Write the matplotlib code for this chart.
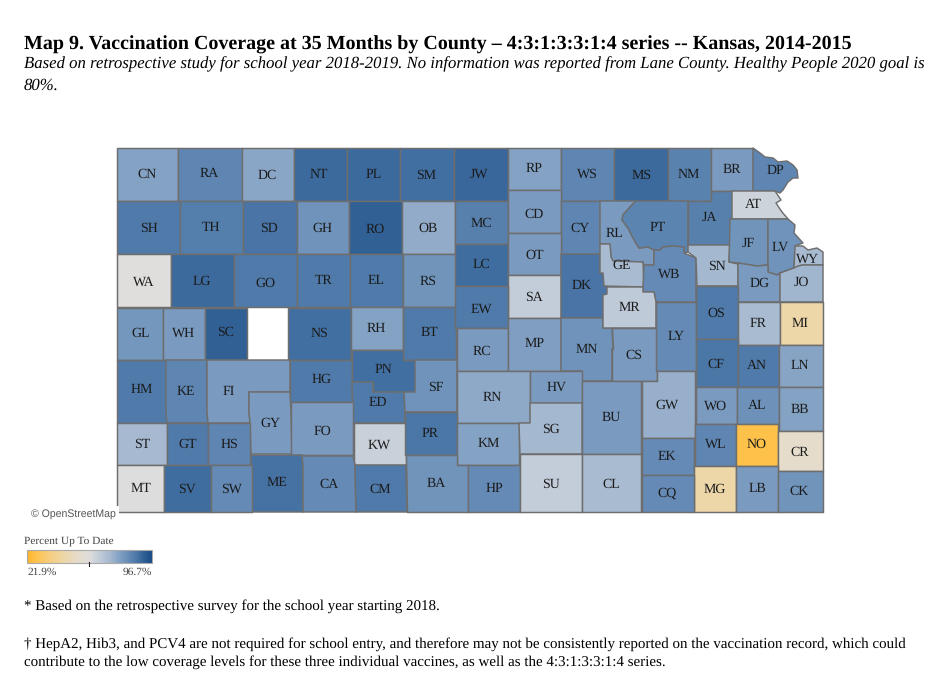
import matplotlib
matplotlib.use("Agg")
import matplotlib.pyplot as plt
from matplotlib.colors import LinearSegmentedColormap, Normalize
from matplotlib.patches import Polygon, Rectangle
import numpy as np

plt.rcParams['font.family'] = ['Liberation Serif', 'DejaVu Serif']
plt.rcParams['text.hinting'] = 'none'
plt.rcParams['text.hinting_factor'] = 8
plt.rcParams['text.kerning_factor'] = 0

# ---- data ----
counties = ["CN","RA","DC","NT","PL","SM","JW","RP","WS","MS","NM","BR","DP",
            "SH","TH","SD","GH","RO","OB","MC","CD","CY","RL","PT","JA","AT",
            "WA","LG","GO","TR","EL","RS","LC","OT","SA","DK","GE","WB","SN","JF","LV","WY","DG","JO",
            "GL","WH","SC","NS","RH","BT","EW","RC","MP","MN","MR","CS","LY","OS","FR","MI",
            "HM","KE","FI","HG","PN","ED","SF","RN","HV","BU","GW","CF","AN","LN",
            "GY","FO","ST","GT","HS","KW","PR","KM","SG","WO","AL","BB",
            "WL","NO","CR","EK","ME","CA","CM","BA","HP","SU","CL","MT","SV","SW","MG","LB","CK","CQ"]
coverage = [77,84,76,90,90,89,90.5,77,84,90,85,79,84,
            87,86,88,81,92,75,85.5,79,84,79,84.5,85.5,63,
            59,90,87,87,87,80.5,89.5,79,65,88,71,83,72,80.5,81,71,79,72.5,
            80,79,92,89,77,87,87,79,78,81,66,79,83,87,71,44,
            87,84,79,87,89,87,81,75.5,79,79,74,87.5,87,76.5,
            79,79,71.5,87,84,64,87.5,77,72,79,81.5,77,
            84,27,52,83,88.5,83,87,80.5,83,65,71,59.5,89.5,83,44,79,80.5,83]
vmin, vmax = 21.9, 96.7

def R(x0, y0, x1, y1):
    return [(x0,y0),(x1,y0),(x1,y1),(x0,y1)]

outlines = {
 "CN":R(117,148,178,201),"RA":R(178,148,242,201),"DC":R(242,148,294,201),"NT":R(294,148,347,201),
 "PL":R(347,148,400,201),"SM":R(400,148,454,201),"JW":R(454,148,508,201),"RP":R(508,148,561,190),
 "WS":R(561,148,614,201),"MS":R(614,148,668,201),"NM":R(668,148,711,201),"BR":R(711,148,753,191),
 "DP":[(753,148),(760,153),(765,157),(773,158),(778,162),(787,161),(793,165),(797,170),(798,178),(793,178),(788,182),(783,190),(780,193),(775,191),(753,191)],
 "SH":R(117,201,180,254),"TH":R(180,201,243,254),"SD":R(243,201,297,254),"GH":R(297,201,349,254),
 "RO":R(349,201,402,254),"OB":R(402,201,455,254),"MC":R(455,201,508,244),"CD":R(508,190,561,233),
 "CY":R(561,201,600,254),
 "RL":[(600,201),(636,201),(630,207),(623,215),(622,220),(628,228),(633,238),(639,248),(648,247),(654,250),(654,265),(644,265),(643,262),(613,261),(611,257),(610,244),(600,244)],
 "PT":[(636,201),(688,201),(688,252),(684,253),(684,247),(673,246),(663,247),(660,250),(654,250),(648,247),(639,248),(633,238),(628,228),(622,220),(623,215),(630,207)],
 "JA":[(688,201),(711,201),(711,191),(732,191),(732,219),(730,219),(730,245),(688,245)],
 "AT":[(732,191),(775,191),(781,200),(776,203),(782,212),(788,219),(732,219)],
 "WA":R(117,254,171,307),"LG":R(171,254,234,307),"GO":R(234,254,297,307),"TR":R(297,254,350,307),
 "EL":R(350,254,403,307),"RS":R(403,254,456,307),"LC":R(455,244,508,286),"OT":R(508,233,561,275),
 "SA":R(508,275,561,318),
 "DK":[(561,254),(600,254),(600,273),(603,273),(604,286),(607,286),(607,294),(603,295),(603,318),(561,318)],
 "GE":[(600,244),(610,244),(611,257),(613,261),(643,262),(644,287),(604,286),(603,273),(600,273)],
 "WB":[(654,250),(660,250),(663,247),(673,246),(684,247),(684,253),(696,258),(696,302),(656,302),(654,292),(643,292),(643,287),(644,265),(654,265)],
 "SN":[(688,245),(730,245),(729,262),(738,264),(738,286),(697,286),(696,258),(688,252)],
 "JF":[(730,219),(768,219),(768,265),(757,266),(738,263),(729,262)],
 "LV":[(768,219),(788,219),(795,225),(794,233),(803,243),(795,246),(794,268),(780,273),(777,275),(768,272)],
 "WY":[(795,246),(803,246),(808,250),(817,248),(823,252),(823,265),(803,265),(798,266),(794,271)],
 "DG":[(738,263),(757,266),(768,265),(768,272),(777,275),(780,273),(780,302),(738,302)],
 "JO":[(780,273),(794,268),(798,266),(803,265),(823,265),(823,302),(780,302)],
 "GL":R(117,308,163,360),"WH":R(163,308,205,360),"SC":R(205,308,247,360),"NS":R(288,308,351,360),
 "RH":R(351,307,403,350),"BT":R(403,307,456,360),"EW":R(455,286,508,328),"RC":R(457,328,508,371),
 "MP":R(508,318,561,371),
 "MN":[(561,318),(603,318),(603,328),(612,328),(613,349),(612,349),(612,381),(582,381),(582,371),(561,371)],
 "MR":[(607,287),(643,287),(643,292),(654,292),(656,302),(656,328),(603,328),(603,295),(607,294)],
 "CS":[(612,328),(657,328),(657,381),(612,381),(612,349),(613,349)],
 "LY":R(656,302,696,371),"OS":R(696,286,738,339),"FR":R(738,302,780,345),"MI":R(780,302,823,345),
 "HM":R(117,360,167,423),
 "KE":[(166,360),(207,360),(207,412),(208,423),(167,423),(166,412)],
 "FI":[(207,360),(290,360),(290,392),(249,392),(249,412),(250,423),(208,423),(207,412)],
 "HG":R(290,360,352,402),
 "PN":[(352,350),(403,350),(403,360),(415,360),(415,392),(373,392),(373,382),(352,382)],
 "ED":[(352,382),(373,382),(373,392),(404,392),(405,412),(405,423),(353,423)],
 "SF":[(415,360),(457,360),(457,412),(405,412),(404,392),(415,392)],
 "RN":R(457,371,530,423),"HV":R(530,371,582,403),"BU":R(582,381,641,454),
 "GW":[(657,371),(695,371),(695,438),(642,438),(642,381),(657,381)],
 "CF":R(696,339,738,387),"AN":R(738,345,779,387),"LN":R(779,345,823,387),
 "GY":[(249,392),(290,392),(291,413),(292,454),(251,454),(250,423),(249,412)],
 "FO":R(291,402,353,455),"ST":R(117,423,167,465),"GT":R(167,423,208,465),"HS":R(208,423,250,465),
 "KW":R(354,423,406,465),"PR":R(405,412,457,455),"KM":R(457,423,519,465),
 "SG":[(530,403),(582,403),(582,454),(520,454),(519,423),(530,423)],
 "WO":R(696,387,737,424),"AL":R(737,387,779,424),"BB":R(779,387,823,431),
 "WL":R(695,424,736,466),"NO":R(736,424,778,466),"CR":R(778,431,823,471),"EK":R(642,438,694,475),
 "ME":[(251,455),(302,455),(303,465),(303,512),(252,512),(251,465)],
 "CA":[(302,456),(353,456),(355,465),(356,512),(303,512),(303,465)],
 "CM":[(355,465),(406,465),(407,512),(356,512)],
 "BA":[(406,455),(457,455),(457,465),(468,465),(468,512),(407,512)],
 "HP":R(468,465,520,512),"SU":R(520,454,582,512),"CL":R(582,454,641,512),
 "MT":R(117,465,164,512),"SV":R(164,465,211,512),"SW":R(211,465,252,512),
 "MG":R(694,466,736,512),"LB":R(736,466,778,512),"CK":R(778,471,823,512),"CQ":R(642,475,694,512),
}

# label anchors
label_xy = {
 "CN":(147,173),"RA":(209,173),"DC":(267,174),"NT":(319,174),"PL":(373,174),"SM":(426,174),"JW":(479,173),
 "RP":(534,168),"WS":(587,173),"MS":(641,174),"NM":(688,174),"BR":(732,169),"DP":(775,170),
 "SH":(149,227),"TH":(211,227),"SD":(269,227),"GH":(322,227),"RO":(375,228),"OB":(428,227),"MC":(481,222),
 "CD":(534,213),"CY":(580,227),"RL":(614,233),"PT":(657,227),"JA":(709,216),"AT":(753,204),
 "WA":(143,281),"LG":(202,280),"GO":(265,282),"TR":(323,280),"EL":(376,280),"RS":(428,280),"LC":(481,263),
 "OT":(534,254),"SA":(534,296),"DK":(581,285),"GE":(621,264),"WB":(669,273),"SN":(717,265),"JF":(748,242),
 "LV":(780,246),"WY":(807,258),"DG":(759,282),"JO":(801,281),
 "GL":(140,332),"WH":(183,332),"SC":(225,331),"NS":(319,332),"RH":(376,328),"BT":(429,332),"EW":(481,308),
 "RC":(482,350),"MP":(534,343),"MN":(586,349),"MR":(629,307),"CS":(634,354),"LY":(676,336),"OS":(716,312),
 "FR":(758,323),"MI":(800,323),
 "HM":(141,389),"KE":(186,391),"FI":(228,391),"HG":(321,378),"PN":(383,369),"ED":(378,402),"SF":(435,386),
 "RN":(492,397),"HV":(556,386),"BU":(611,416),"GW":(667,404),"CF":(716,363),"AN":(757,365),"LN":(800,365),
 "GY":(270,422),"FO":(322,430),"ST":(142,443),"GT":(187,443),"HS":(229,443),"KW":(379,444),"PR":(430,433),
 "KM":(488,443),"SG":(551,428),"WO":(715,405),"AL":(757,405),"BB":(800,409),
 "WL":(715,443),"NO":(756,443),"CR":(799,451),"EK":(667,456),"ME":(277,482),"CA":(329,483),"CM":(380,488),
 "BA":(436,483),"HP":(494,488),"SU":(551,483),"CL":(611,483),"MT":(141,488),"SV":(187,488),"SW":(231,488),
 "MG":(714,488),"LB":(757,488),"CK":(799,490),"CQ":(667,492),
}

title = "Map 9. Vaccination Coverage at 35 Months by County \u2013 4:3:1:3:3:1:4 series -- Kansas, 2014-2015"
subtitle = ["Based on retrospective study for school year 2018-2019. No information was reported from Lane County. Healthy People 2020 goal is",
            "80%."]
foot1 = "* Based on the retrospective survey for the school year starting 2018."
foot2 = ["\u2020 HepA2, Hib3, and PCV4 are not required for school entry, and therefore may not be consistently reported on the vaccination record, which could",
         "contribute to the low coverage levels for these three individual vaccines, as well as the 4:3:1:3:3:1:4 series."]

# ---- colour scale: anchors of the diverging orange/blue ramp ----
anchor_vals = [21.9, 27, 35, 44, 52, 59.3, 66, 72, 77, 82, 87, 91, 96.7]
anchor_cols = ["#FDB52A","#FEC24C","#F7CE7E","#EDD6A8","#E6DCCB","#DFDEDD","#BECAD8","#A4B8CF","#84A2C4","#6A8FB8","#4F7AA9","#376599","#174A85"]
norm = Normalize(vmin, vmax)
cmap = LinearSegmentedColormap.from_list("ob", [(norm(v), c) for v, c in zip(anchor_vals, anchor_cols)], N=512)

# ---- figure ----
fig = plt.figure(figsize=(9.48, 6.82), dpi=100)
ax = fig.add_axes([0, 0, 1, 1])
ax.set_xlim(0, 948); ax.set_ylim(682, 0); ax.axis("off")

BORDER = "#6E6E6E"
for code, val in zip(counties, coverage):
    ax.add_patch(Polygon(outlines[code], closed=True, facecolor=cmap(norm(val)),
                         edgecolor=BORDER, linewidth=1.05, joinstyle="round", zorder=2))
    x, y = label_xy[code]
    ax.text(x + 0.3, y + 1, code, ha="center", va="center", fontsize=10, color="#1A1A1A", zorder=4)

# titles
ax.text(24, 49.5, title, fontsize=14.43, fontweight="bold", color="black", va="baseline")
ax.text(24, 68.5, subtitle[0], fontsize=12.05, style="italic", color="black", va="baseline")
ax.text(24, 89.5, subtitle[1], fontsize=12.05, style="italic", color="black", va="baseline")

# attribution
ax.text(31, 514, "\u00a9 OpenStreetMap", fontsize=7.6, family="Liberation Sans", color="#555555",
        va="center", zorder=6,
        bbox=dict(facecolor="white", edgecolor="none", pad=2))

# legend
ax.text(24.5, 541, "Percent Up To Date", fontsize=8.2, color="#444444", va="center")
grad = np.linspace(vmin, vmax, 256).reshape(1, -1)
ax.imshow(grad, extent=[27.5, 152, 563, 550], cmap=cmap, norm=norm, aspect="auto", zorder=3)
ax.set_xlim(0, 948); ax.set_ylim(682, 0)
ax.add_patch(Rectangle((27.5, 550), 124.5, 13, fill=False, edgecolor="#A9A9A9", linewidth=0.8, zorder=4))
ax.plot([89, 89], [562, 565.5], color="#222222", linewidth=0.8, zorder=5)
ax.text(28, 572.5, "21.9%", fontsize=8.2, color="#444444", va="center", ha="left")
ax.text(152, 572.5, "96.7%", fontsize=8.2, color="#444444", va="center", ha="right")

# footnotes
ax.text(24, 610, foot1, fontsize=10.81, color="black", va="baseline")
ax.text(24, 648, foot2[0], fontsize=10.81, color="black", va="baseline")
ax.text(24, 666, foot2[1], fontsize=10.81, color="black", va="baseline")

fig.savefig("out.png", dpi=100)
